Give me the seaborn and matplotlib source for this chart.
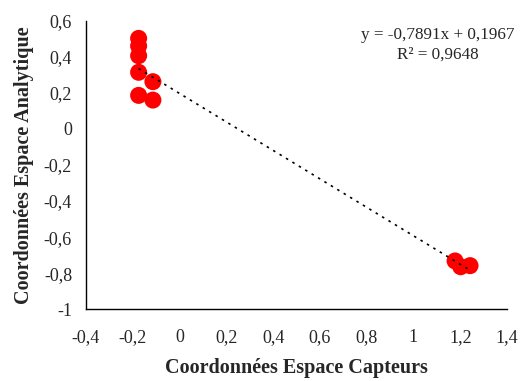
import matplotlib
matplotlib.use("Agg")
import matplotlib.pyplot as plt
import seaborn as sns
import numpy as np
import pandas as pd

# Data
x_capteurs = [-0.175, -0.175, -0.175, -0.175, -0.114, -0.175, -0.114, 1.178, 1.202, 1.242]
y_analytique = [0.502, 0.460, 0.406, 0.314, 0.262, 0.186, 0.160, -0.732, -0.764, -0.758]
trend_slope = -0.7891
trend_intercept = 0.1967
r_squared = 0.9648
x_ticks = [-0.4, -0.2, 0, 0.2, 0.4, 0.6, 0.8, 1, 1.2, 1.4]
y_ticks = [-1, -0.8, -0.6, -0.4, -0.2, 0, 0.2, 0.4, 0.6]
x_label = "Coordonnées Espace Capteurs"
y_label = "Coordonnées Espace Analytique"

def fr(v):
    s = f"{v:g}"
    return s.replace(".", ",")

sns.set_style("white")
plt.rcParams['font.family'] = ['Liberation Serif', 'DejaVu Serif']

df = pd.DataFrame({"x": x_capteurs, "y": y_analytique})

fig = plt.figure(figsize=(5.2, 3.81), dpi=100)
ax = fig.add_axes([86/520, 1-309.3/381, 421/520, 288.6/381])

# trend line
xs = np.linspace(min(x_capteurs), max(x_capteurs), 50)
ax.plot(xs, trend_slope*xs + trend_intercept, color="black", lw=1.2,
        linestyle=(0, (1.5, 3)), zorder=3)

sns.scatterplot(data=df, x="x", y="y", ax=ax, color="#ff0000", s=150,
                edgecolor="none", linewidth=0, zorder=2, clip_on=False)

ax.set_xlim(-0.4, 1.4)
ax.set_ylim(-1, 0.6)
ax.set_xticks(x_ticks)
ax.set_yticks(y_ticks)
ax.set_xticklabels([fr(v) for v in x_ticks], fontsize=13)
ax.set_yticklabels([fr(v) for v in y_ticks], fontsize=13)
ax.tick_params(axis="x", direction="out", length=5, width=1, color="black", pad=9)
ax.tick_params(axis="y", direction="out", length=5, width=1, color="black", pad=5)
for s in ["top", "right"]:
    ax.spines[s].set_visible(False)
for s in ["left", "bottom"]:
    ax.spines[s].set_color("black")
    ax.spines[s].set_linewidth(1)

ax.set_xlabel(x_label, fontsize=14.5, fontweight="bold", labelpad=9)
ax.set_ylabel(y_label, fontsize=14.5, fontweight="bold", labelpad=7)

ax.text(0.836, 0.950, f"y = {fr(trend_slope)}x + {fr(trend_intercept)}",
        transform=ax.transAxes, ha="center", va="center", fontsize=12.3)
ax.text(0.836, 0.881, f"R² = {fr(r_squared)}",
        transform=ax.transAxes, ha="center", va="center", fontsize=12.3)

fig.savefig("out.png", dpi=100)
